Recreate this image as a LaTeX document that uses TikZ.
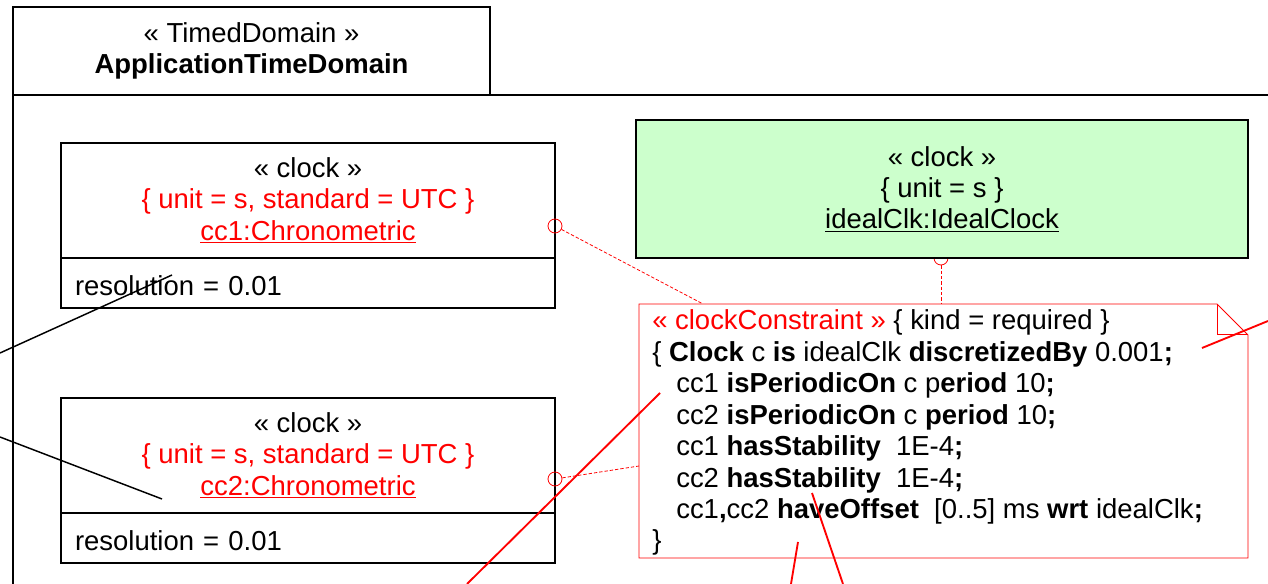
\documentclass[tikz,border=0pt]{standalone}
\usepackage{fontspec}
\setmainfont{Liberation Sans}
\definecolor{clkgreen}{RGB}{204,255,204}
\tikzset{
  umlbox/.style={draw, line width=1.1pt, inner sep=0pt, align=center},
  attrbox/.style={umlbox, text width=349.5pt, align=left, text height=19.5pt, text depth=0pt},
  port/.style={draw=red, circle, inner sep=0pt, minimum size=10.5pt, line width=0.6pt},
  link/.style={red, line width=0.6pt, dash pattern=on 2.5pt off 1.5pt},
  stroke/.style={red, line width=1.4pt},
  notetext/.style={inner sep=0pt, align=left}
}
\begin{document}
\begin{tikzpicture}[x=0.75pt, y=-0.75pt, font=\fontsize{20.6}{23.6}\selectfont]
    \useasboundingbox (0,0) rectangle (1268,584);
    % Package frame
    \begin{scope}
    \clip (0,0) rectangle (1268,584);
    \draw[line width=1.1pt] (13,590) -- (13,95) -- (1275,95);
    \node[umlbox, minimum width=357.75pt, minimum height=66pt] (pkg) at (251.5,51)
        {« TimedDomain »\\ \textbf{ApplicationTimeDomain}};

    % Chronometric clocks
    \node[umlbox, minimum width=370.5pt, minimum height=86.25pt] (cc1) at (308,200.5)
        {« clock »\\ \textcolor{red}{\{ unit = s, standard = UTC \}}\\
         \textcolor{red}{\underline{cc1:Chronometric}}};
    \node[attrbox, minimum height=37.5pt, inner xsep=10.5pt] (cc1res) at (308,283) {resolution = 0.01};
    \node[umlbox, minimum width=370.5pt, minimum height=86.25pt] (cc2) at (308,455.5)
        {« clock »\\ \textcolor{red}{\{ unit = s, standard = UTC \}}\\
         \textcolor{red}{\underline{cc2:Chronometric}}};
    \node[attrbox, minimum height=37.5pt, inner xsep=10.5pt] (cc2res) at (308,538) {resolution = 0.01};

    % Ideal clock
    \node[port] (p0) at (941,258) {};
    \node[umlbox, fill=clkgreen, minimum width=459pt, minimum height=103.5pt] (ideal) at (942,189)
        {« clock »\\ \{ unit = s \}\\ \underline{idealClk:IdealClock}};

    % Constraint note
    \draw[red, line width=0.7pt] (639,304) -- (1217,304) -- (1248,335) -- (1248,558) -- (639,558) -- cycle;
    \draw[red, line width=0.5pt] (1217,304) -- (1217,334) -- (1248,334);
    \node[notetext, anchor=north west] (spec) at (652,309.5) {%
        \textcolor{red}{« clockConstraint »} \{ kind = required \}\\
        \{ \textbf{Clock} c \textbf{is} idealClk \textbf{discretizedBy} 0.001\textbf{;}\\
        \hspace*{18pt}cc1 \textbf{isPeriodicOn} c p\textbf{eriod} 10\textbf{;}\\
        \hspace*{18pt}cc2 \textbf{isPeriodicOn} c \textbf{period} 10\textbf{;}\\
        \hspace*{18pt}cc1 \textbf{hasStability}~ 1E-4\textbf{;}\\
        \hspace*{18pt}cc2 \textbf{hasStability}~ 1E-4\textbf{;}\\
        \hspace*{18pt}cc1\textbf{,}cc2 \textbf{haveOffset}~ [0..5] ms \textbf{wrt} idealClk\textbf{;}\\
        \}};

    % Ports and links to the note
    \node[port] (p1) at (555,226) {};
    \node[port] (p2) at (555,479) {};
    \coordinate (n0) at (941,304);
    \coordinate (n1) at (703,304);
    \coordinate (n2) at (639,466);
    \draw[link] (p0) -- (n0);
    \draw[link] (p1) -- (n1);
    \draw[link] (p2) -- (n2);

    % Strokes
    \draw[line width=1.1pt] (0,353) -- (172,275);
    \draw[line width=1.1pt] (0,437) -- (162,499);
    \draw[stroke] (467,584) -- (660,393);
    \draw[stroke] (1202,348) -- (1268,321);
    \draw[stroke] (798,542) -- (791,584);
    \draw[stroke] (812,493) -- (843,584);
    \end{scope}
\end{tikzpicture}
\end{document}
